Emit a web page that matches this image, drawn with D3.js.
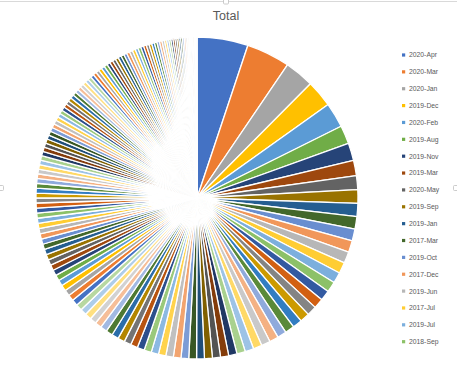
<!DOCTYPE html>
<html><head><meta charset="utf-8">
<script src="https://cdn.jsdelivr.net/npm/d3@7"></script>
<style>html,body{margin:0;padding:0;background:#fff;}svg{display:block;}</style>
</head><body>
<script>
// ---- data (slices sorted descending, as in the reference) ----
const categories = [
  "2020-Apr","2020-Mar","2020-Jan","2019-Dec","2020-Feb","2019-Aug","2019-Nov","2019-Mar","2020-May","2019-Sep",
  "2019-Jan","2017-Mar","2019-Oct","2017-Dec","2019-Jun","2017-Jul","2019-Jul","2018-Sep",
  "2019-Feb","2019-Apr","2019-May","2018-Jan","2018-Feb","2018-Mar","2018-Apr","2018-May","2018-Jun","2018-Jul",
  "2018-Aug","2018-Oct","2018-Nov","2018-Dec","2017-Jan","2017-Feb","2017-Apr","2017-May","2017-Jun","2017-Aug",
  "2017-Sep","2017-Oct","2017-Nov",
  "2016-Jan","2016-Feb","2016-Mar","2016-Apr","2016-May","2016-Jun","2016-Jul","2016-Aug","2016-Sep","2016-Oct","2016-Nov","2016-Dec",
  "2015-Jan","2015-Feb","2015-Mar","2015-Apr","2015-May","2015-Jun","2015-Jul","2015-Aug","2015-Sep","2015-Oct","2015-Nov","2015-Dec",
  "2014-Jan","2014-Feb","2014-Mar","2014-Apr","2014-May","2014-Jun","2014-Jul","2014-Aug","2014-Sep","2014-Oct","2014-Nov","2014-Dec",
  "2013-Jan","2013-Feb","2013-Mar","2013-Apr","2013-May","2013-Jun","2013-Jul","2013-Aug","2013-Sep","2013-Oct","2013-Nov","2013-Dec",
  "2012-Jan","2012-Feb","2012-Mar","2012-Apr","2012-May","2012-Jun","2012-Jul","2012-Aug","2012-Sep","2012-Oct","2012-Nov","2012-Dec",
  "2011-Jan","2011-Feb","2011-Mar","2011-Apr","2011-May","2011-Jun","2011-Jul","2011-Aug","2011-Sep","2011-Oct","2011-Nov","2011-Dec",
  "2010-Jan","2010-Feb","2010-Mar","2010-Apr","2010-May","2010-Jun","2010-Jul","2010-Aug","2010-Sep","2010-Oct","2010-Nov","2010-Dec",
  "2009-Jan","2009-Feb","2009-Mar","2009-Apr","2009-May","2009-Jun","2009-Jul","2009-Aug","2009-Sep","2009-Oct","2009-Nov","2009-Dec",
  "2008-Jan","2008-Feb","2008-Mar","2008-Apr","2008-May","2008-Jun","2008-Jul","2008-Aug","2008-Sep","2008-Oct","2008-Nov","2008-Dec",
  "2007-Jan","2007-Feb","2007-Mar","2007-Apr","2007-May","2007-Jun","2007-Jul","2007-Aug","2007-Sep","2007-Oct","2007-Nov","2007-Dec"
];
const totals = [
  18.4,15.7,10.6,9.7,9.0,6.6,6.3,5.5,5.0,4.9,
  4.7,4.5,4.3,4.2,4.1,4.0,3.9,3.8,3.7,3.6,3.5,3.45,3.4,3.35,3.3,3.25,3.2,3.15,3.1,3.05,3.0,2.95,2.9,2.85,2.8,
  2.8,2.77,2.74,2.71,2.68,2.65,2.62,2.59,2.56,2.53,2.5,2.47,2.44,2.41,2.38,2.35,2.32,2.29,2.26,2.23,
  2.2,2.17,2.14,2.11,2.08,2.05,2.03,2.01,1.99,1.97,1.95,1.93,1.91,1.89,1.87,1.85,1.83,1.81,1.79,1.77,
  1.77,1.75,1.73,1.71,1.69,1.67,1.65,1.63,1.61,1.59,1.57,1.55,1.53,1.51,1.49,1.47,1.45,1.43,1.41,1.39,
  1.37,1.36,1.35,1.34,1.33,1.32,1.31,1.3,1.29,1.28,1.27,1.26,1.25,1.24,1.23,1.22,1.21,1.2,1.19,1.18,
  1.17,1.16,1.15,1.14,1.13,1.12,1.11,1.1,1.09,1.08,1.07,1.05,1.03,1.01,0.99,0.97,0.95,0.93,0.91,0.89,
  0.8,0.78,0.76,0.74,0.72,0.7,0.68,0.66,0.64,0.62,
  0.6,0.55,0.5,0.45,0.4,0.35,0.3,0.27,0.24,0.21,0.18,0.15,0.12,0.1,0.08,0.06
];
const legendCount = 18;
const title = "Total";

// ---- Office theme palette with Excel's colour variations ----
const accents = ["#4472C4","#ED7D31","#A5A5A5","#FFC000","#5B9BD5","#70AD47"];
const variations = [[1,0],[0.6,0],[0.8,0.2],[0.8,0],[0.6,0.4],[0.5,0],[0.7,0.3],[0.7,0],[0.5,0.5]];
function excelColor(i){
  const base = d3.hsl(accents[i % 6]);
  const v = variations[Math.floor(i / 6) % variations.length];
  const c = d3.hsl(base.h, base.s, base.l * v[0] + v[1]);
  return c.formatHex();
}

const W = 457, H = 371;
const cx = 197, cy = 198, R = 161;
const svg = d3.select("body").append("svg").attr("width", W).attr("height", H);

// chart frame (top edge) & selection handles
svg.append("line").attr("x1",0).attr("x2",W).attr("y1",1.5).attr("y2",1.5)
  .attr("stroke","#D9D9D9").attr("stroke-width",1);
[[226,1.5],[1,188],[456,188]].forEach(p=>{
  svg.append("rect").attr("x",p[0]-2.5).attr("y",p[1]-2.5).attr("width",5).attr("height",5)
    .attr("rx",1).attr("fill","#fff").attr("stroke","#BFBFBF").attr("stroke-width",0.8);
});

svg.append("text").attr("x",226).attr("y",20).attr("text-anchor","middle")
  .attr("font-family","'Liberation Sans', Arial, sans-serif").attr("font-size",12.5)
  .attr("fill","#595959").text(title);

const data = categories.map((c,i)=>({cat:c, value:totals[i], idx:i}));
const pie = d3.pie().value(d=>d.value).sort(null);
const arc = d3.arc().innerRadius(0).outerRadius(R);
const g = svg.append("g").attr("transform",`translate(${cx},${cy})`);
g.selectAll("path").data(pie(data)).join("path")
  .attr("d",arc).attr("fill",d=>excelColor(d.data.idx))
  .attr("stroke","#fff").attr("stroke-width",1.3).attr("stroke-linejoin","round");

// legend
const ly = d3.scaleLinear().domain([0, legendCount-1]).range([55, 341.7]);
const lg = svg.append("g");
data.slice(0, legendCount).forEach((d,i)=>{
  const y = ly(i);
  lg.append("rect").attr("x",402).attr("y",y-1.6).attr("width",3.2).attr("height",3.2)
    .attr("fill",excelColor(i));
  lg.append("text").attr("x",409).attr("y",y+2.4)
    .attr("font-family","'Liberation Sans', Arial, sans-serif").attr("font-size",6.8)
    .attr("fill","#595959").text(d.cat);
});
</script>
</body></html>
